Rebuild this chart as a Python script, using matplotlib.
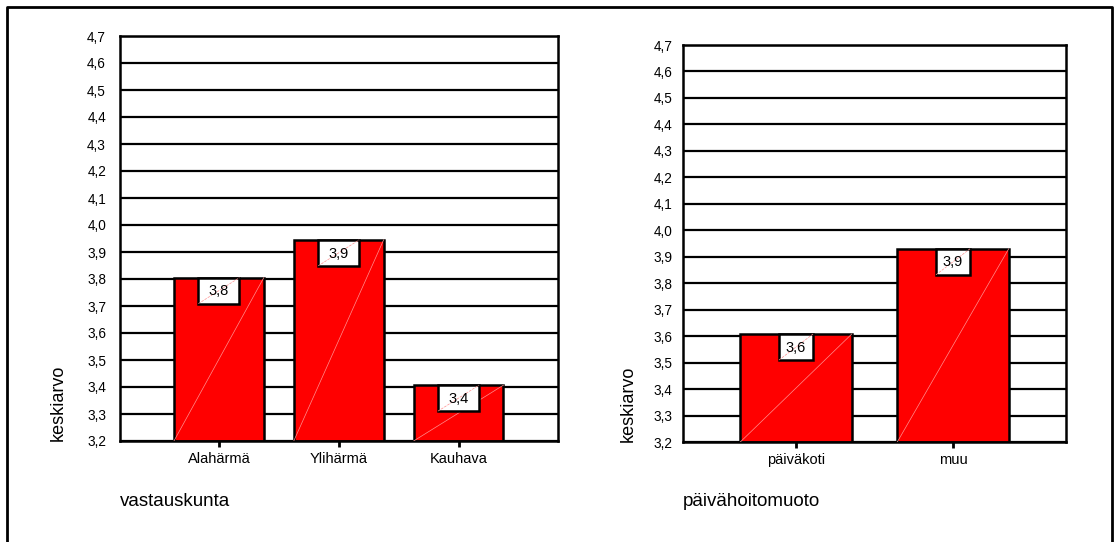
import matplotlib
matplotlib.use('Agg')
import matplotlib.pyplot as plt
from matplotlib.patches import Rectangle
from matplotlib.lines import Line2D
from matplotlib.transforms import ScaledTranslation

plt.rcParams['font.family'] = ['Liberation Sans', 'DejaVu Sans']

# keskiarvot vastauskunnittain
kunnat = ['Alahärmä', 'Ylihärmä', 'Kauhava']
kunta_ka = [3.805, 3.945, 3.407]
kunta_lbl = ['3,8', '3,9', '3,4']

# keskiarvot päivähoitomuodon mukaan
muodot = ['päiväkoti', 'muu']
muoto_ka = [3.608, 3.930]
muoto_lbl = ['3,6', '3,9']

yticks = [3.2, 3.3, 3.4, 3.5, 3.6, 3.7, 3.8, 3.9, 4.0, 4.1, 4.2, 4.3, 4.4, 4.5, 4.6, 4.7]
ytick_lbl = ['3,2', '3,3', '3,4', '3,5', '3,6', '3,7', '3,8', '3,9',
             '4,0', '4,1', '4,2', '4,3', '4,4', '4,5', '4,6', '4,7']

W, H = 1114, 542
fig = plt.figure(figsize=(W / 100, H / 100), dpi=100)


def panel(rect, cats, vals, lbls, xlim, width, box_w, ypad, ylab_x, title):
    ax = fig.add_axes(rect)
    ax.set_ylim(3.2, 4.7)
    ax.set_xlim(*xlim)
    ax.set_yticks(yticks)
    ax.set_yticklabels(ytick_lbl)
    ax.yaxis.grid(True, color='black', lw=1.6)
    ax.set_axisbelow(True)
    for s in ax.spines.values():
        s.set_linewidth(1.8)
    ax.tick_params(axis='y', length=0, pad=ypad, labelsize=9.8)
    ax.tick_params(axis='x', length=4, width=2, pad=4, labelsize=10.5)
    x = list(range(len(cats)))
    ax.bar(x, [v - 3.2 for v in vals], bottom=3.2, width=width,
           color='#ff0000', edgecolor='black', linewidth=1.8, zorder=2)
    ax.set_xticks(x)
    ax.set_xticklabels(cats)
    box_h = 0.26
    for i, v, t in zip(x, vals, lbls):
        # faint diagonal across the bar
        ax.plot([i - width / 2, i + width / 2], [3.2, v], color='#ff9090',
                lw=0.5, zorder=3)
        tr = fig.dpi_scale_trans + ScaledTranslation(i, v, ax.transData)
        ax.add_patch(Rectangle((-box_w / 2, -box_h), box_w, box_h,
                               transform=tr, fc='white', ec='black',
                               lw=1.8, zorder=4, clip_on=False))
        ax.add_line(Line2D([-box_w / 2, box_w / 2], [-box_h, 0], transform=tr,
                           color='#ff9090', lw=0.5, ls='--', zorder=5))
        ax.annotate(t, (i, v), xytext=(0, -box_h * 72 / 2 - 0.5),
                    textcoords='offset points', ha='center', va='center',
                    fontsize=10.5, zorder=6)
    fig.text(ylab_x / W, rect[1], 'keskiarvo', rotation=90, ha='center',
             va='bottom', fontsize=13)
    fig.text(rect[0], 1 - 502 / H, title, ha='left', va='center', fontsize=13.5)
    return ax


panel([120 / W, 1 - 441 / H, 438 / W, 405 / H], kunnat, kunta_ka, kunta_lbl,
      (-0.825, 2.83), 0.75, 0.41, 10, 58, 'vastauskunta')
panel([683 / W, 1 - 442 / H, 383 / W, 397 / H], muodot, muoto_ka, muoto_lbl,
      (-0.72, 1.72), 0.71, 0.34, 7.5, 628, 'päivähoitomuoto')

# outer frame (open at the bottom)
fig.add_artist(Line2D([7 / W, 7 / W, 1112 / W, 1112 / W], [0, 1 - 7 / H, 1 - 7 / H, 0],
                      transform=fig.transFigure, color='black', lw=2))

fig.savefig('out.png', dpi=100)
